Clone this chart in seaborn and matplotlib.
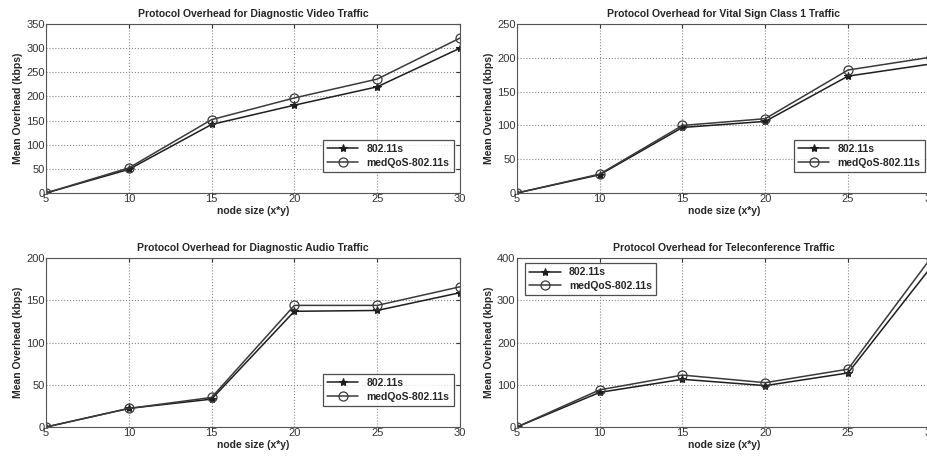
import numpy as np
import matplotlib
matplotlib.use('Agg')
import matplotlib.pyplot as plt
import seaborn as sns

# node sizes on the x axis
node_size = [5, 10, 15, 20, 25, 30]

# mean overhead (kbps)
video_80211s = [0, 49, 142, 182, 220, 300]
video_medqos = [0, 52, 152, 197, 236, 321]

vital_80211s = [0, 27, 97, 106, 173, 191]
vital_medqos = [0, 28, 100, 110, 182, 201]

audio_80211s = [0, 22, 33, 137, 138, 159]
audio_medqos = [0, 22, 35, 144, 144, 166]

telecon_80211s = [0, 82, 113, 98, 128, 378]
telecon_medqos = [0, 88, 123, 105, 137, 400]

titles = ['Protocol Overhead for Diagnostic Video Traffic',
          'Protocol Overhead for Vital Sign Class 1 Traffic',
          'Protocol Overhead for Diagnostic Audio Traffic',
          'Protocol Overhead for Teleconference Traffic']
series_names = ['802.11s', 'medQoS-802.11s']
y_limits = [350, 250, 200, 400]
y_steps = [50, 50, 50, 100]
legend_locs = ['lower right', 'lower right', 'lower right', 'upper left']
legend_anchor = [(0.985, 0.125), (0.985, 0.125), (0.985, 0.125), (0.02, 0.97)]

panels = [(video_80211s, video_medqos), (vital_80211s, vital_medqos),
          (audio_80211s, audio_medqos), (telecon_80211s, telecon_medqos)]

sns.set_style('white')
plt.rcParams['font.family'] = ['Liberation Sans', 'DejaVu Sans']

fig = plt.figure(figsize=(9.28, 4.59), dpi=100)
positions = [[0.0496, 0.5795, 0.446, 0.368],
             [0.557, 0.5795, 0.446, 0.368],
             [0.0496, 0.0697, 0.446, 0.368],
             [0.557, 0.0697, 0.446, 0.368]]

for i, (s1, s2) in enumerate(panels):
    ax = fig.add_axes(positions[i])
    ax.grid(True, linestyle=':', color='#888888', linewidth=0.8)
    ax.set_axisbelow(True)
    # 802.11s: solid line with small filled stars
    sns.lineplot(x=node_size, y=s1, ax=ax, label=series_names[0],
                 color='#1e1e1e', linewidth=1.1, marker='*', markersize=6,
                 markerfacecolor='#1e1e1e', markeredgecolor='#1e1e1e',
                 markeredgewidth=0.8)
    # medQoS-802.11s: solid line with open circles
    sns.lineplot(x=node_size, y=s2, ax=ax, label=series_names[1],
                 color='#3a3a3a', linewidth=1.1, marker='o', markersize=6.5,
                 markerfacecolor='none', markeredgecolor='#3a3a3a',
                 markeredgewidth=0.9)
    ax.set_xlim(5, 30)
    ax.set_ylim(0, y_limits[i])
    ax.set_xticks(node_size)
    ax.set_yticks(np.arange(0, y_limits[i] + 1, y_steps[i]))
    ax.tick_params(direction='in', length=3, labelsize=8, top=True, right=True,
                   colors='#333333', pad=1)
    for sp in ax.spines.values():
        sp.set_color('#555555')
        sp.set_linewidth(0.8)
    ax.set_title(titles[i], fontsize=7.5, fontweight='bold', pad=5)
    ax.set_xlabel('node size (x*y)', fontsize=7.5, fontweight='bold', labelpad=1)
    ax.set_ylabel('Mean Overhead (kbps)', fontsize=7.5, fontweight='bold', labelpad=2)
    leg = ax.legend(loc=legend_locs[i], bbox_to_anchor=legend_anchor[i],
                    prop={'weight': 'bold', 'size': 7.5},
                    frameon=True, fancybox=False, edgecolor='#222222',
                    borderaxespad=0, handlelength=3, labelspacing=0.35)
    leg.get_frame().set_linewidth(0.9)

fig.savefig('out.png', dpi=100)
